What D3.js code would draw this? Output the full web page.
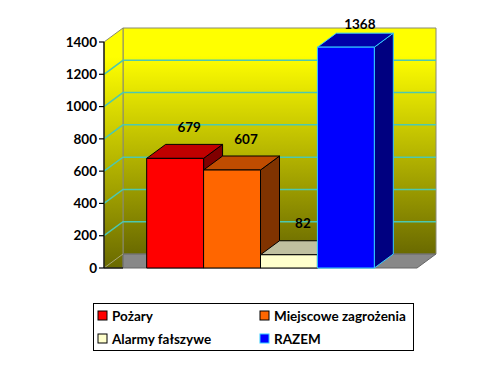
<!DOCTYPE html>
<html><head><meta charset="utf-8">
<script src="https://cdn.jsdelivr.net/npm/d3@7"></script>
<style>
html,body{margin:0;padding:0;background:#fff;}
svg{display:block;font-family:Lato,"Open Sans",sans-serif;}
</style></head>
<body>
<svg id="c" width="480" height="379"></svg>
<script>
const categories = ["Pożary", "Miejscowe zagrożenia", "Alarmy fałszywe", "RAZEM"];
const values = [679, 607, 82, 1368];
const yTicks = [0, 200, 400, 600, 800, 1000, 1200, 1400];
const frontColors = ["#FF0000", "#FF6600", "#FFFFCC", "#0000FF"];
const topColors = ["#C00000", "#C04C00", "#C0C0A0", "#0000A8"];
const sideColors = ["#800000", "#803300", "#A0A080", "#000080"];
const strokeColors = ["#000", "#000", "#000", "#33CCFF"];

const svg = d3.select("#c");
const x0 = 104, x1 = 417, yBase = 268, yTop = 42;
const dx = 19, dy = -14;
const y = d3.scaleLinear().domain([0, 1400]).range([yBase, yTop]);
const x = d3.scaleBand().domain(categories).range([x0, x1]).paddingInner(0).paddingOuter(0.75);

const defs = svg.append("defs");
const g1 = defs.append("linearGradient").attr("id", "wall").attr("x1", 0).attr("y1", 0).attr("x2", 0).attr("y2", 1);
g1.append("stop").attr("offset", 0).attr("stop-color", "#FFFF00");
g1.append("stop").attr("offset", 0.12).attr("stop-color", "#FFFF00");
g1.append("stop").attr("offset", 1).attr("stop-color", "#6A6A00");

const pts = a => a.map(p => p.join(",")).join(" ");

// back wall
svg.append("polygon")
  .attr("points", pts([[x0+dx, y(1400)+dy], [x1+dx, y(1400)+dy], [x1+dx, y(0)+dy], [x0+dx, y(0)+dy]]))
  .attr("fill", "url(#wall)").attr("stroke", "#8a8a70").attr("stroke-width", 1);
// side wall
svg.append("polygon")
  .attr("points", pts([[x0, y(1400)], [x0+dx, y(1400)+dy], [x0+dx, y(0)], [x0, y(0)]]))
  .attr("fill", "url(#wall)").attr("stroke", "#8a8a70").attr("stroke-width", 1);
// floor
svg.append("polygon")
  .attr("points", pts([[x0+dx, y(0)], [x0+dx, y(0)+dy], [x1+dx, y(0)+dy], [x1, y(0)]]))
  .attr("fill", "#888888").attr("stroke", "#666", "stroke-width", 1);

// gridlines
const grid = svg.append("g").attr("stroke", "#4CC8B0").attr("stroke-width", 1.5).attr("fill", "none");
yTicks.filter(t => t > 0 && t < 1400).forEach(t => {
  grid.append("polyline").attr("points", pts([[x0, y(t)], [x0+dx, y(t)+dy], [x1+dx, y(t)+dy]]));
});
// side wall bottom diagonal
svg.append("line").attr("x1", x0).attr("y1", y(0)).attr("x2", x0+dx).attr("y2", y(0)+dy)
  .attr("stroke", "#A8A878").attr("stroke-width", 1);

// axis
svg.append("line").attr("x1", x0).attr("x2", x0).attr("y1", y(0)).attr("y2", y(1400))
  .attr("stroke", "#000").attr("stroke-width", 1.2);
svg.append("line").attr("x1", x0).attr("x2", x0+dx).attr("y1", y(0)).attr("y2", y(0))
  .attr("stroke", "#000").attr("stroke-width", 1.2);
const ax = svg.append("g");
yTicks.forEach(t => {
  ax.append("line").attr("x1", x0-5).attr("x2", x0).attr("y1", y(t)).attr("y2", y(t)).attr("stroke", "#000").attr("stroke-width", 1.2);
  ax.append("text").attr("x", x0-7).attr("y", y(t)).attr("dy", "0.35em").attr("text-anchor", "end")
    .attr("font-size", 13.5).attr("font-weight", "bold").attr("fill", "#000").text(t);
});

// bars
const bw = x.bandwidth();
categories.forEach((c, i) => {
  const v = values[i];
  const bx = x(c), by = y(v), b0 = y(0);
  const g = svg.append("g").attr("stroke", strokeColors[i]).attr("stroke-width", 1).attr("stroke-linejoin", "round");
  g.append("polygon").attr("points", pts([[bx+bw, by], [bx+bw+dx, by+dy], [bx+bw+dx, b0+dy], [bx+bw, b0]])).attr("fill", sideColors[i]);
  g.append("polygon").attr("points", pts([[bx, by], [bx+dx, by+dy], [bx+bw+dx, by+dy], [bx+bw, by]])).attr("fill", topColors[i]);
  g.append("rect").attr("x", bx).attr("y", by).attr("width", bw).attr("height", b0-by).attr("fill", frontColors[i]);
});

// data labels
categories.forEach((c, i) => {
  const v = values[i];
  const ly = Math.max(y(v) + dy - 12.5, 29);
  svg.append("text").attr("x", x(c) + bw/2 + 14).attr("y", ly).attr("text-anchor", "middle")
    .attr("font-size", 13.5).attr("font-weight", "bold").attr("fill", "#000").text(v);
});

// legend
const lg = svg.append("g");
lg.append("rect").attr("x", 93.5).attr("y", 303.5).attr("width", 320).attr("height", 47)
  .attr("fill", "#fff").attr("stroke", "#000").attr("stroke-width", 1);
const lpos = [[98, 316], [260, 316], [98, 339], [260, 339]];
categories.forEach((c, i) => {
  const [lx, ly] = lpos[i];
  lg.append("rect").attr("x", lx).attr("y", ly-5).attr("width", 9).attr("height", 9)
    .attr("fill", frontColors[i]).attr("stroke", i === 3 ? "#33CCFF" : "#000").attr("stroke-width", 1);
  lg.append("text").attr("x", lx+14).attr("y", ly).attr("dy", "0.35em")
    .attr("font-size", 13.5).attr("font-weight", "bold").attr("fill", "#000").text(c);
});
</script>
</body></html>
